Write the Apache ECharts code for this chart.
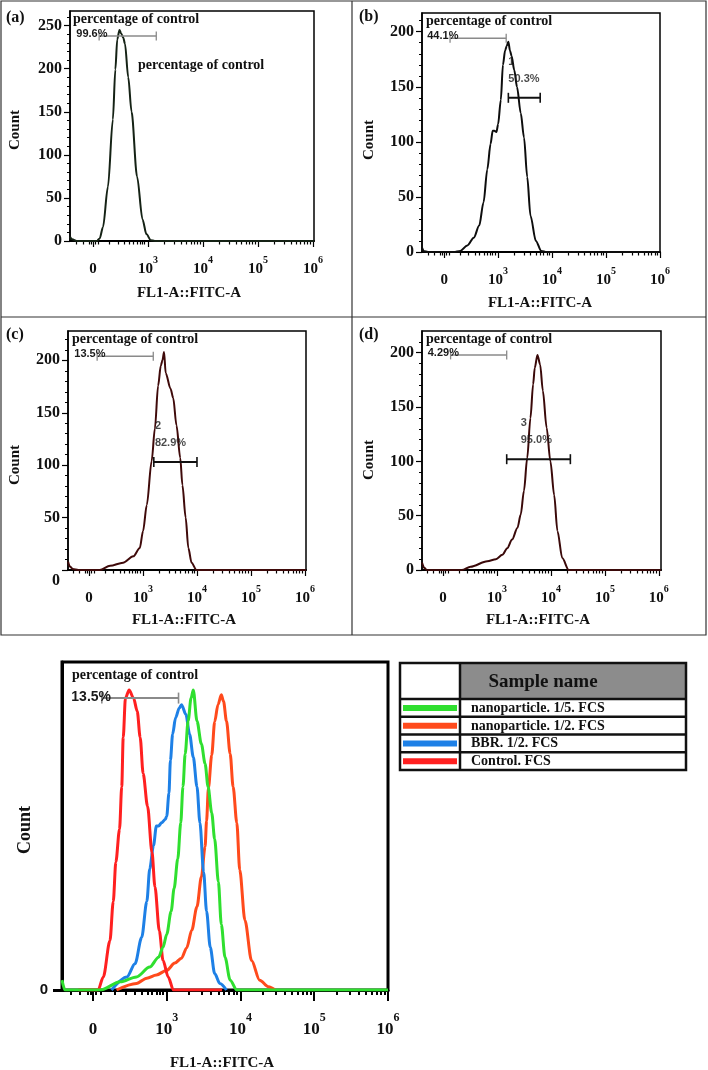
<!DOCTYPE html>
<html><head><meta charset="utf-8">
<script src="https://cdn.jsdelivr.net/npm/echarts@6/dist/echarts.min.js"></script>
<style>html,body{margin:0;padding:0;background:#fff}#c{width:708px;height:1070px}</style>
</head><body><div id="c"></div><script>
// x values are in display units of the biexponential FL1-A axis:
// 0 -> "0", 1 -> 10^3, 2 -> 10^4, 3 -> 10^5, 4 -> 10^6
const xMajorTicks = [0, 1, 2, 3, 4];
const xTickBase = ['0', '10', '10', '10', '10'];
const xTickExp = ['', '3', '4', '5', '6'];
const xMinorLow = [-0.3, -0.18, -0.07, -0.035, 0.035, 0.1, 0.3, 0.45, 0.57, 0.66, 0.74, 0.8, 0.86, 0.9, 0.94];
const yTicksA = [0, 50, 100, 150, 200, 250];
const yTicksBCD = [0, 50, 100, 150, 200];
const panelLetters = ['(a)', '(b)', '(c)', '(d)'];
const axisTitleX = 'FL1-A::FITC-A';
const axisTitleY = 'Count';
const gateTitle = 'percentage of control';

// panel (a)
const aX = [-0.42,-0.38,-0.30,0.07,0.12,0.18,0.27,0.36,0.405,0.44,0.48,0.51,0.55,0.58,0.64,0.70,0.80,0.90,0.97,1.05,1.12,4.02];
const aY = [5,2,0,0,3,16,63,141,199,234,245,241,236,229,190,150,75,25,8,1,0,0];
// panel (b)
const bX = [-0.41,-0.38,-0.30,0.18,0.30,0.43,0.55,0.65,0.73,0.80,0.86,0.90,0.93,0.97,1.00,1.05,1.09,1.13,1.16,1.19,1.22,1.25,1.30,1.35,1.42,1.48,1.54,1.60,1.70,1.80,1.90,4.00];
const bY = [4,1,0,0,1,6,13,24,45,75,98,110,110,109,116,138,170,183,187,191,183,178,165,150,126,104,68,33,10,1,0,0];
// panel (c)
const cX = [-0.39,-0.35,-0.30,-0.20,0.20,0.39,0.63,0.82,0.94,1.00,1.07,1.16,1.22,1.28,1.33,1.36,1.39,1.42,1.51,1.56,1.62,1.69,1.73,1.79,1.84,1.90,1.99,4.02];
const cY = [8,3,1,0,0,4,7,13,21,37,62,104,135,176,195,200,208,188,173,164,138,107,81,50,21,7,0,0];
// panel (d)
const dX = [-0.39,-0.35,-0.30,0.35,0.51,0.82,0.98,1.10,1.19,1.28,1.38,1.44,1.50,1.56,1.62,1.67,1.70,1.75,1.80,1.85,1.92,1.99,2.06,2.12,2.21,2.33,4.04];
const dY = [7,2,0,0,3,8,10,14,20,28,39,51,73,103,140,171,186,198,189,165,131,100,69,36,11,0,0];

// overlay (relative count, % of axis height)
const overlayNames = ['nanoparticle. 1/5. FCS', 'nanoparticle. 1/2. FCS', 'BBR. 1/2. FCS', 'Control. FCS'];
const overlayColors = ['#2fdf2f', '#ff4a1c', '#1e80e6', '#ff2020'];
const greenX = [-0.42,-0.38,0.10,0.37,0.59,0.77,0.89,0.95,1.00,1.06,1.10,1.15,1.19,1.22,1.25,1.29,1.33,1.36,1.41,1.47,1.52,1.56,1.61,1.65,1.70,1.74,1.79,1.86,1.95,4.00];
const greenY = [3,0,0,2.5,4,7,10,13,17,24,31,40,51,62,72,82,89,91.5,82,75,69,62,54,46,33,20,10,3,0,0];
const orangeX = [0.32,0.59,0.73,0.86,1.00,1.11,1.20,1.27,1.34,1.41,1.47,1.52,1.54,1.565,1.61,1.65,1.695,1.74,1.77,1.81,1.86,1.90,1.95,1.99,2.06,2.15,2.26,2.38,2.47];
const orangeY = [0,2,3.6,4.6,6,8.2,9.7,12.8,18.3,25.4,34.5,43.7,51.5,61.6,71.6,81.8,87,90,88,82,72,62,51,36.6,21.3,9,3,1,0];
const blueX = [0.25,0.46,0.57,0.66,0.73,0.77,0.82,0.86,0.89,0.93,0.98,1.00,1.03,1.05,1.08,1.12,1.17,1.20,1.26,1.31,1.36,1.41,1.45,1.50,1.54,1.59,1.65,1.72,1.81];
const blueY = [0,4,8,16,27,37,44,50,50,51,52,53,60,70,78,83,86,87,84,78,71,62,51,36,24,13,5,2,0];
const redX = [-0.20,0.07,0.14,0.23,0.275,0.31,0.36,0.39,0.41,0.44,0.49,0.55,0.60,0.64,0.68,0.74,0.80,0.84,0.90,0.95,1.02,1.09,1.75];
const redY = [0,0,4,15,27,39,49,62,77,89,91.5,89,85,77,66,56,42,31.5,18,9,4,0,0];

// gates: panels a,b,c,d then overlay
const grayGateL = [0.11, 0.11, 0.15, 0.14, 0.12];
const grayGateR = [1.15, 1.15, 1.19, 1.18, 1.16];
const grayGateY = [238, 194, 204, 198, 89];
const grayGatePct = ['99.6%', '44.1%', '13.5%', '4.29%', '13.5%'];
const numGateL = [null, 1.19, 1.20, 1.18];
const numGateR = [null, 1.78, 2.00, 2.36];
const numGateY = [null, 140, 103, 102];
const numGateName = ['', '1', '2', '3'];
const numGatePct = ['', '50.3%', '82.9%', '95.0%'];
const numGateLabelX = [null, 1.19, 1.22, 1.44];

const SERIF = '"Liberation Serif", "Times New Roman", serif';
const SANS = '"Liberation Sans", Arial, sans-serif';

const xMinor = xMinorLow.slice();
for (let d = 1; d < 4; d++) for (let k = 2; k <= 9; k++) xMinor.push(d + Math.log10(k));

const layout = [
  {left:70, top:11, width:244, height:230, xMin:-0.42, xMax:4.02, yMax:267, yTicks:yTicksA, letter:[6,18], count:[15,130], title:[189,293], pct:[73,19], color:'#152215', drop0:false},
  {left:422, top:13, width:238, height:239, xMin:-0.41, xMax:4.00, yMax:217, yTicks:yTicksBCD, letter:[359,17], count:[369,140], title:[540,303], pct:[426,21], color:'#0d0d0d', drop0:false},
  {left:68, top:331, width:238, height:239, xMin:-0.39, xMax:4.02, yMax:228, yTicks:yTicksBCD, letter:[6,335], count:[15,465], title:[184,620], pct:[72,339], color:'#3f0a0a', drop0:true},
  {left:422, top:331, width:239, height:239, xMin:-0.39, xMax:4.04, yMax:220, yTicks:yTicksBCD, letter:[359,335], count:[369,460], title:[538,620], pct:[426,339], color:'#3a0909', drop0:false}
];
const panelData = [[aX,aY],[bX,bY],[cX,cY],[dX,dY]];

const grids = [], xAxes = [], yAxes = [], series = [], graphics = [];

function xLabelFormatter(v) {
  const i = xMajorTicks.indexOf(Math.round(v));
  if (i < 0) return '';
  return xTickExp[i] ? '{b|' + xTickBase[i] + '}{s|' + xTickExp[i] + '}' : '{b|' + xTickBase[i] + '}';
}

function addGrid(g) {
  grids.push({left:g.left, top:g.top, width:g.width, height:g.height, show:true,
    borderColor:'#000', borderWidth:g.bw, backgroundColor:'transparent', containLabel:false});
  const gi = grids.length - 1;
  xAxes.push({type:'value', gridIndex:gi, position:'bottom', min:g.xMin, max:g.xMax,
    axisLine:{show:true, onZero:false, lineStyle:{color:'#000', width:g.axisW}},
    axisTick:{show:true, customValues:xMajorTicks, length:g.majLen, lineStyle:{color:'#000', width:g.tickW}},
    axisLabel:{show:true, customValues:xMajorTicks, margin:g.xMargin, formatter:xLabelFormatter,
      rich:{
        b:{fontFamily:SERIF, fontWeight:'bold', fontSize:g.xFont, lineHeight:g.xLine, verticalAlign:'bottom', color:'#111'},
        s:{fontFamily:SERIF, fontWeight:'bold', fontSize:g.supFont, lineHeight:g.supFont + 1, verticalAlign:'top', color:'#111'}
      }},
    splitLine:{show:false}});
  const xi = xAxes.length - 1;
  xAxes.push({type:'value', gridIndex:gi, position:'bottom', min:g.xMin, max:g.xMax,
    axisLine:{show:false, onZero:false}, axisLabel:{show:false}, splitLine:{show:false},
    axisTick:{show:true, customValues:xMinor, length:g.minLen, lineStyle:{color:'#000', width:g.tickW}}});
  return {gi, xi};
}

layout.forEach((p, k) => {
  const {gi, xi} = addGrid({left:p.left, top:p.top, width:p.width, height:p.height, xMin:p.xMin, xMax:p.xMax,
    bw:1.5, axisW:2, majLen:6, minLen:3.5, tickW:1.2, xMargin:14, xFont:15, xLine:22, supFont:10});
  yAxes.push({type:'value', gridIndex:gi, position:'left', min:0, max:p.yMax,
    axisLine:{show:true, onZero:false, lineStyle:{color:'#000', width:1.5}},
    axisTick:{show:true, customValues:p.yTicks, length:6, lineStyle:{color:'#000', width:1.2}},
    axisLabel:{show:true, customValues:p.yTicks, margin:8, fontFamily:SERIF, fontWeight:'bold', fontSize:16, color:'#111',
      formatter:(v) => (p.drop0 && v === 0) ? '{d|0}' : String(v),
      rich:{d:{fontFamily:SERIF, fontWeight:'bold', fontSize:16, color:'#111', padding:[22,0,0,0]}}},
    splitLine:{show:false}});
  const yi = yAxes.length - 1;
  const minorY = [];
  for (let v = 10; v < p.yMax; v += 10) minorY.push(v);
  yAxes.push({type:'value', gridIndex:gi, position:'left', min:0, max:p.yMax,
    axisLine:{show:false, onZero:false}, axisLabel:{show:false}, splitLine:{show:false},
    axisTick:{show:true, customValues:minorY, length:3, lineStyle:{color:'#000', width:1}}});

  const [xs, ys] = panelData[k];
  series.push({type:'line', xAxisIndex:xi, yAxisIndex:yi, data:xs.map((x, i) => [x, ys[i]]),
    showSymbol:false, smooth:0.3, smoothMonotone:'x', lineStyle:{color:p.color, width:2}, z:3, silent:true, animation:false});

  // gray "percentage of control" gate
  series.push({type:'line', xAxisIndex:xi, yAxisIndex:yi, z:4, silent:true, animation:false,
    symbol:'rect', symbolSize:[1.3, 9], showSymbol:true, itemStyle:{color:'#8a8a8a'},
    lineStyle:{color:'#8a8a8a', width:1.5},
    data:[{value:[grayGateL[k], grayGateY[k]], label:{show:true, position:'left', distance:-9, offset:[0,-2],
      formatter:grayGatePct[k], fontFamily:SANS, fontWeight:'bold', fontSize:11, color:'#1a1a1a'}},
      [grayGateR[k], grayGateY[k]]]});

  if (numGateL[k] !== null) {
    series.push({type:'line', xAxisIndex:xi, yAxisIndex:yi, z:4, silent:true, animation:false,
      symbol:'rect', symbolSize:[1.6, 10], showSymbol:true, itemStyle:{color:'#111'},
      lineStyle:{color:'#111', width:2},
      data:[[numGateL[k], numGateY[k]], [numGateR[k], numGateY[k]]]});
    series.push({type:'scatter', xAxisIndex:xi, yAxisIndex:yi, z:5, silent:true, animation:false, symbolSize:0,
      data:[{value:[numGateLabelX[k], numGateY[k]], label:{show:true, position:'top', distance:10.5, align:'left',
        formatter:numGateName[k] + '\n' + numGatePct[k], lineHeight:17,
        fontFamily:SANS, fontWeight:'bold', fontSize:11, color:'#1a1a1a'}}]});
  }

  graphics.push({type:'text', x:p.letter[0], y:p.letter[1], style:{text:panelLetters[k], font:'bold 16px ' + SERIF,
    fill:'#111', textAlign:'left', textVerticalAlign:'middle', align:'left', verticalAlign:'middle'}});
  graphics.push({type:'text', x:p.pct[0], y:p.pct[1], style:{text:gateTitle, font:'bold 14px ' + SERIF,
    fill:'#111', textAlign:'left', textVerticalAlign:'middle', align:'left', verticalAlign:'middle'}});
  graphics.push({type:'text', x:p.count[0], y:p.count[1], rotation:Math.PI / 2, style:{text:axisTitleY, font:'bold 15px ' + SERIF,
    fill:'#111', textAlign:'center', textVerticalAlign:'middle', align:'center', verticalAlign:'middle'}});
  graphics.push({type:'text', x:p.title[0], y:p.title[1], style:{text:axisTitleX, font:'bold 15px ' + SERIF,
    fill:'#111', textAlign:'center', textVerticalAlign:'middle', align:'center', verticalAlign:'middle'}});
});

// second "percentage of control" label in panel (a)
graphics.push({type:'text', x:138, y:65, style:{text:gateTitle, font:'bold 14px ' + SERIF,
  fill:'#111', textAlign:'left', textVerticalAlign:'middle', align:'left', verticalAlign:'middle'}});

// overlay chart
(function () {
  const ov = {left:62, top:662, width:326, height:328, xMin:-0.42, xMax:4.0};
  const {gi, xi} = addGrid(Object.assign({}, ov, {bw:3, axisW:3, majLen:11, minLen:5, tickW:2, xMargin:22, xFont:17, xLine:26, supFont:12}));
  yAxes.push({type:'value', gridIndex:gi, position:'left', min:0, max:100,
    axisLine:{show:true, onZero:false, lineStyle:{color:'#000', width:3}},
    axisTick:{show:true, customValues:[0], length:9, lineStyle:{color:'#000', width:3}},
    axisLabel:{show:true, customValues:[0], margin:14, fontFamily:SANS, fontWeight:'bold', fontSize:15, color:'#111'},
    splitLine:{show:false}});
  const yi = yAxes.length - 1;
  const curves = [[orangeX, orangeY, 1], [blueX, blueY, 2], [redX, redY, 3], [greenX, greenY, 0]];
  curves.forEach(([xs, ys, ci]) => {
    series.push({type:'line', name:overlayNames[ci], xAxisIndex:xi, yAxisIndex:yi, data:xs.map((x, i) => [x, ys[i]]),
      showSymbol:false, smooth:0.3, smoothMonotone:'x', lineStyle:{color:overlayColors[ci], width:3}, z:3, silent:true, animation:false});
  });
  series.push({type:'line', xAxisIndex:xi, yAxisIndex:yi, z:4, silent:true, animation:false,
    symbol:'rect', symbolSize:[1.6, 11], showSymbol:true, itemStyle:{color:'#8a8a8a'},
    lineStyle:{color:'#8a8a8a', width:2},
    data:[{value:[grayGateL[4], grayGateY[4]], label:{show:true, position:'left', distance:-10, offset:[0,-1],
      formatter:grayGatePct[4], fontFamily:SANS, fontWeight:'bold', fontSize:14, color:'#1a1a1a'}},
      [grayGateR[4], grayGateY[4]]]});
  graphics.push({type:'text', x:72, y:675, style:{text:gateTitle, font:'bold 14px ' + SERIF,
    fill:'#111', textAlign:'left', textVerticalAlign:'middle', align:'left', verticalAlign:'middle'}});
  graphics.push({type:'text', x:25, y:830, rotation:Math.PI / 2, style:{text:axisTitleY, font:'bold 18px ' + SERIF,
    fill:'#111', textAlign:'center', textVerticalAlign:'middle', align:'center', verticalAlign:'middle'}});
  graphics.push({type:'text', x:222, y:1063, style:{text:axisTitleX, font:'bold 15px ' + SERIF,
    fill:'#111', textAlign:'center', textVerticalAlign:'middle', align:'center', verticalAlign:'middle'}});

  // legend table
  const T = {x:400, y:663, w:286, h:107, col:60, head:36};
  const rowH = (T.h - T.head) / overlayNames.length;
  graphics.push({type:'rect', shape:{x:T.x + T.col, y:T.y, width:T.w - T.col, height:T.head}, style:{fill:'#8c8c8c'}});
  graphics.push({type:'text', x:543, y:T.y + T.head / 2 + 1, style:{text:'Sample name', font:'bold 19px ' + SERIF,
    fill:'#111', textAlign:'center', textVerticalAlign:'middle', align:'center', verticalAlign:'middle'}});
  overlayNames.forEach((nm, i) => {
    const ry = T.y + T.head + i * rowH;
    graphics.push({type:'rect', shape:{x:T.x + 3, y:ry + rowH / 2 - 3, width:T.col - 6, height:6}, style:{fill:overlayColors[i]}});
    graphics.push({type:'text', x:T.x + T.col + 11, y:ry + rowH / 2 + 0.5, style:{text:nm, font:'bold 14px ' + SERIF,
      fill:'#111', textAlign:'left', textVerticalAlign:'middle', align:'left', verticalAlign:'middle'}});
    graphics.push({type:'line', shape:{x1:T.x, y1:ry, x2:T.x + T.w, y2:ry}, style:{stroke:'#111', lineWidth:2.5}});
  });
  graphics.push({type:'line', shape:{x1:T.x + T.col, y1:T.y, x2:T.x + T.col, y2:T.y + T.h}, style:{stroke:'#111', lineWidth:2.5}});
  graphics.push({type:'rect', shape:{x:T.x, y:T.y, width:T.w, height:T.h}, style:{fill:'none', stroke:'#111', lineWidth:2.5}});
})();

// panel frame lines
graphics.push({type:'rect', shape:{x:1, y:1, width:705, height:634}, style:{fill:'none', stroke:'#333', lineWidth:1.2}});
graphics.push({type:'line', shape:{x1:1, y1:317, x2:706, y2:317}, style:{stroke:'#333', lineWidth:1.2}});
graphics.push({type:'line', shape:{x1:352, y1:1, x2:352, y2:635}, style:{stroke:'#333', lineWidth:1.2}});

const chart = echarts.init(document.getElementById('c'), null, {renderer:'canvas', width:708, height:1070});
chart.setOption({
  animation:false,
  backgroundColor:'#fff',
  grid:grids, xAxis:xAxes, yAxis:yAxes, series:series,
  graphic:{elements:graphics}
});
</script></body></html>
